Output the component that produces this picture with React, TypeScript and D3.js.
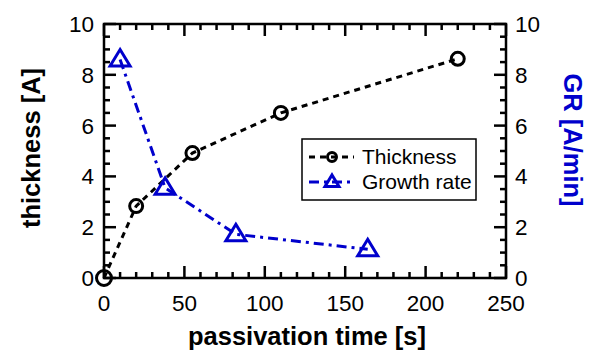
import React from 'react';
import * as d3 from 'd3';

// passivation time [s] vs thickness [A]
const thickTime = [0, 20, 55, 110, 220];
const thickValue = [0, 2.83, 4.92, 6.5, 8.63];

// passivation time [s] vs growth rate [A/min]
const grTime = [10, 38, 82, 164];
const grValue = [8.6, 3.55, 1.72, 1.13];

const xTicks = [0, 50, 100, 150, 200, 250];
const yTicks = [0, 2, 4, 6, 8, 10];

const W = 601;
const H = 355;
const margin = { top: 24, right: 95, bottom: 77, left: 104 };
const FONT = "'Liberation Sans', Arial, sans-serif";
const BLUE = '#0000cc';

const App = () => {
  const iw = W - margin.left - margin.right;
  const ih = H - margin.top - margin.bottom;

  const x = d3.scaleLinear().domain([0, 250]).range([0, iw]);
  const yL = d3.scaleLinear().domain([0, 10]).range([ih, 0]);
  const yR = d3.scaleLinear().domain([0, 10]).range([ih, 0]);

  const line = d3.line<[number, number]>();
  const thickPts: [number, number][] = thickTime.map((t, i) => [x(t), yL(thickValue[i])]);
  const grPts: [number, number][] = grTime.map((t, i) => [x(t), yR(grValue[i])]);

  const xMinor = d3.range(0, 251, 10);
  const yMinor = d3.range(0, 10.01, 0.5);
  const major = 12;
  const minor = 6;

  const tri = (cx: number, cy: number, s = 10) =>
    `M${cx},${cy - s}L${cx + s},${cy + s * 0.65}L${cx - s},${cy + s * 0.65}Z`;

  return (
    <svg width={W} height={H} style={{ position: 'absolute', left: 0, top: 0 }}>
      <rect width={W} height={H} fill="white" />
      <g transform={`translate(${margin.left},${margin.top})`}>
        {/* ticks */}
        <g stroke="black" strokeWidth={2.5}>
          {xMinor.map(v => {
            const len = v % 50 === 0 ? major : minor;
            return (
              <g key={'x' + v}>
                <line x1={x(v)} x2={x(v)} y1={ih} y2={ih - len} />
                <line x1={x(v)} x2={x(v)} y1={0} y2={len} />
              </g>
            );
          })}
          {yMinor.map(v => {
            const len = Math.abs(v % 2) < 1e-6 ? major : minor;
            return (
              <g key={'y' + v}>
                <line x1={0} x2={len} y1={yL(v)} y2={yL(v)} />
                <line x1={iw} x2={iw - len} y1={yR(v)} y2={yR(v)} />
              </g>
            );
          })}
        </g>
        <rect x={0} y={0} width={iw} height={ih} fill="none" stroke="black" strokeWidth={2.5} />

        {/* tick labels */}
        <g fontFamily={FONT} fontSize={22.5} fill="black">
          {xTicks.map(v => (
            <text key={'xl' + v} x={x(v)} y={ih + 33} textAnchor="middle">{v}</text>
          ))}
          {yTicks.map(v => (
            <text key={'yl' + v} x={-10} y={yL(v) + 8} textAnchor="end">{v}</text>
          ))}
          {yTicks.map(v => (
            <text key={'yr' + v} x={iw + 9} y={yR(v) + 8} textAnchor="start">{v}</text>
          ))}
        </g>

        {/* series */}
        <path d={line(thickPts) || ''} fill="none" stroke="black" strokeWidth={3} strokeDasharray="6,5" />
        <path d={line(grPts) || ''} fill="none" stroke={BLUE} strokeWidth={3} strokeDasharray="10,5,3,5" />
        {thickPts.map((p, i) => (
          <circle key={'c' + i} cx={p[0]} cy={p[1]} r={i === 0 ? 7.5 : 6.5} fill="none" stroke="black" strokeWidth={3} />
        ))}
        {grPts.map((p, i) => (
          <path key={'t' + i} d={tri(p[0], p[1])} fill="none" stroke={BLUE} strokeWidth={3} strokeLinejoin="miter" />
        ))}

        {/* legend */}
        <g transform="translate(198,115)">
          <rect x={0} y={0} width={174} height={61} fill="white" stroke="black" strokeWidth={1.5} />
          <line x1={7} x2={52} y1={18} y2={18} stroke="black" strokeWidth={3} strokeDasharray="6,5" />
          <circle cx={30} cy={18} r={4.5} fill="none" stroke="black" strokeWidth={3} />
          <line x1={7} x2={52} y1={43} y2={43} stroke={BLUE} strokeWidth={3} strokeDasharray="10,5,3,5" />
          <path d={tri(30, 43, 7)} fill="none" stroke={BLUE} strokeWidth={3} />
          <g fontFamily={FONT} fontSize={21} fill="black">
            <text x={60} y={25}>Thickness</text>
            <text x={60} y={50}>Growth rate</text>
          </g>
        </g>
      </g>

      {/* axis titles */}
      <g fontFamily={FONT} fontSize={25.5} fontWeight="bold">
        <text x={margin.left + iw / 2 + 2} y={H - 10} textAnchor="middle">passivation time [s]</text>
        <text transform={`translate(40,148) rotate(-90)`} textAnchor="middle">thickness [A]</text>
        <text transform={`translate(564,140) rotate(90)`} textAnchor="middle" fill={BLUE}>GR [A/min]</text>
      </g>
    </svg>
  );
};

export default App;
